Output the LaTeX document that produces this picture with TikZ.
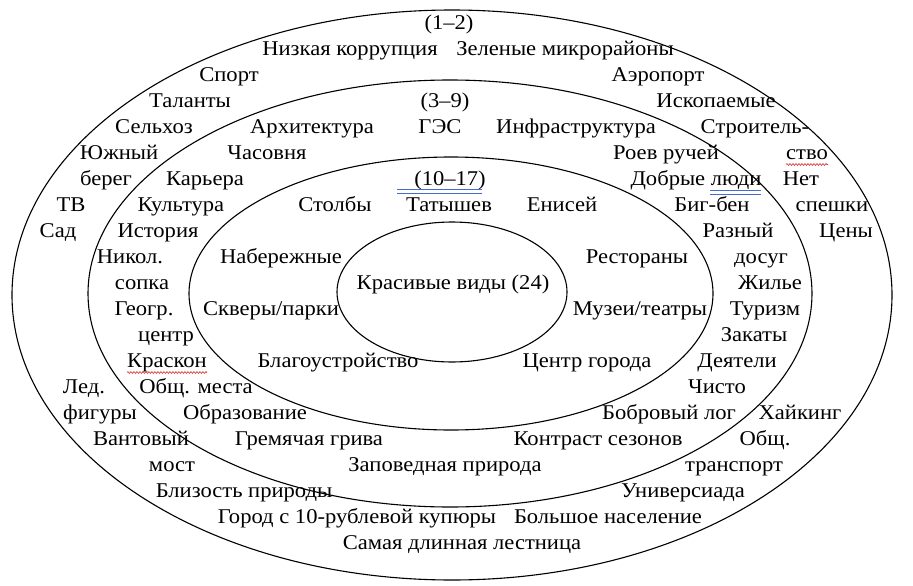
\documentclass[tikz,border=0pt]{standalone}
\usepackage{fontspec}
\setmainfont[FakeStretch=1.075]{Liberation Serif}
\usetikzlibrary{decorations.pathmorphing}
\definecolor{ulblue}{RGB}{70,110,200}
\definecolor{ulred}{RGB}{220,40,40}
\begin{document}
\begin{tikzpicture}[x=1pt,y=-1pt,
  lbl/.style={inner sep=0pt, anchor=mid, font=\fontsize{21}{25}\selectfont},
  ring/.style={draw=black, line width=1.1pt},
  blueul/.style={draw=ulblue, line width=0.7pt},
  redul/.style={draw=ulred, line width=0.6pt, decorate, decoration={snake, amplitude=0.9pt, segment length=3pt}}]
\useasboundingbox (0,0) rectangle (913,586);
\fill[white] (0,0) rectangle (913,586);
% rings
\draw[ring] (452,295) ellipse [x radius=440, y radius=285];
\draw[ring] (450,293.5) ellipse [x radius=362, y radius=213.5];
\draw[ring] (451,293.5) ellipse [x radius=262, y radius=136.5];
\draw[ring] (452,292) ellipse [x radius=115, y radius=70];
% row 0-5
\node[lbl] (a1) at (449,27) {(1–2)};
\node[lbl] (a2) at (350,53) {Низкая коррупция};
\node[lbl] (a3) at (565,53) {Зеленые микрорайоны};
\node[lbl] (a4) at (229,79) {Спорт};
\node[lbl] (a5) at (658,79) {Аэропорт};
\node[lbl] (a6) at (190,105) {Таланты};
\node[lbl] (b1) at (445,105) {(3–9)};
\node[lbl] (a7) at (716,105) {Ископаемые};
\node[lbl] (a8) at (154,131) {Сельхоз};
\node[lbl] (b2) at (312,131) {Архитектура};
\node[lbl] (b3) at (440,131) {ГЭС};
\node[lbl] (b4) at (576,131) {Инфраструктура};
\node[lbl] (a9) at (755,131) {Строитель-};
\node[lbl] (a10) at (119,157) {Южный};
\node[lbl] (b5) at (267,157) {Часовня};
\node[lbl] (b6) at (666,157) {Роев ручей};
\node[lbl] (a11) at (807,157) {ство};
% row 6-8
\node[lbl] (a12) at (106,183) {берег};
\node[lbl] (b7) at (205,183) {Карьера};
\node[lbl] (c1) at (450,183) {(10–17)};
\node[lbl] (b8) at (696,183) {Добрые люди};
\node[lbl] (a13) at (801,183) {Нет};
\node[lbl] (a14) at (71,209) {ТВ};
\node[lbl] (b9) at (181,209) {Культура};
\node[lbl] (c2) at (335,209) {Столбы};
\node[lbl] (c3) at (449,209) {Татышев};
\node[lbl] (c4) at (562,209) {Енисей};
\node[lbl] (b10) at (712,209) {Биг-бен};
\node[lbl] (a15) at (832,209) {спешки};
\node[lbl] (a16) at (58,235) {Сад};
\node[lbl] (b11) at (158,235) {История};
\node[lbl] (b12) at (738,235) {Разный};
\node[lbl] (a17) at (846,235) {Цены};
% row 9-13
\node[lbl] (b13) at (130,261) {Никол.};
\node[lbl] (c5) at (281,261) {Набережные};
\node[lbl] (c6) at (637,261) {Рестораны};
\node[lbl] (b14) at (761,261) {досуг};
\node[lbl] (b15) at (142,287) {сопка};
\node[lbl] (d1) at (453,287) {Красивые виды (24)};
\node[lbl] (b16) at (770,287) {Жилье};
\node[lbl] (b17) at (144,313) {Геогр.};
\node[lbl] (c7) at (271,313) {Скверы/парки};
\node[lbl] (c8) at (640,313) {Музеи/театры};
\node[lbl] (b18) at (765,313) {Туризм};
\node[lbl] (b19) at (166,339) {центр};
\node[lbl] (b20) at (754,339) {Закаты};
\node[lbl] (b21) at (167,365) {Краскон};
\node[lbl] (c9) at (338,365) {Благоустройство};
\node[lbl] (c10) at (587,365) {Центр города};
\node[lbl] (b22) at (737,365) {Деятели};
% row 14-20
\node[lbl] (a18) at (84,391) {Лед.};
\node[lbl] (b23) at (196,391) {Общ. места};
\node[lbl] (b24) at (717,391) {Чисто};
\node[lbl] (a19) at (100,417) {фигуры};
\node[lbl] (b25) at (245,417) {Образование};
\node[lbl] (b26) at (669,417) {Бобровый лог};
\node[lbl] (a20) at (800,417) {Хайкинг};
\node[lbl] (a21) at (141,443) {Вантовый};
\node[lbl] (b27) at (309,443) {Гремячая грива};
\node[lbl] (b28) at (598,443) {Контраст сезонов};
\node[lbl] (a22) at (765,443) {Общ.};
\node[lbl] (a23) at (172,469) {мост};
\node[lbl] (b29) at (445,469) {Заповедная природа};
\node[lbl] (a24) at (734,469) {транспорт};
\node[lbl] (a25) at (244,495) {Близость природы};
\node[lbl] (a26) at (683,495) {Универсиада};
\node[lbl] (a27) at (357,521) {Город с 10-рублевой купюры};
\node[lbl] (a28) at (608,521) {Большое население};
\node[lbl] (a29) at (462,547) {Самая длинная лестница};
% proofing underlines
\coordinate (u1a) at (397,189.5); \coordinate (u1b) at (482,189.5);
\coordinate (u1c) at (397,193); \coordinate (u1d) at (482,193);
\draw[blueul] (u1a) -- (u1b);
\draw[blueul] (u1c) -- (u1d);
\coordinate (u2a) at (710,190.5); \coordinate (u2b) at (761,190.5);
\coordinate (u2c) at (710,194); \coordinate (u2d) at (761,194);
\draw[blueul] (u2a) -- (u2b);
\draw[blueul] (u2c) -- (u2d);
\coordinate (w1a) at (786,164.5); \coordinate (w1b) at (828,164.5);
\draw[redul] (w1a) -- (w1b);
\coordinate (w2a) at (127,372.5); \coordinate (w2b) at (207,372.5);
\draw[redul] (w2a) -- (w2b);
\end{tikzpicture}
\end{document}
